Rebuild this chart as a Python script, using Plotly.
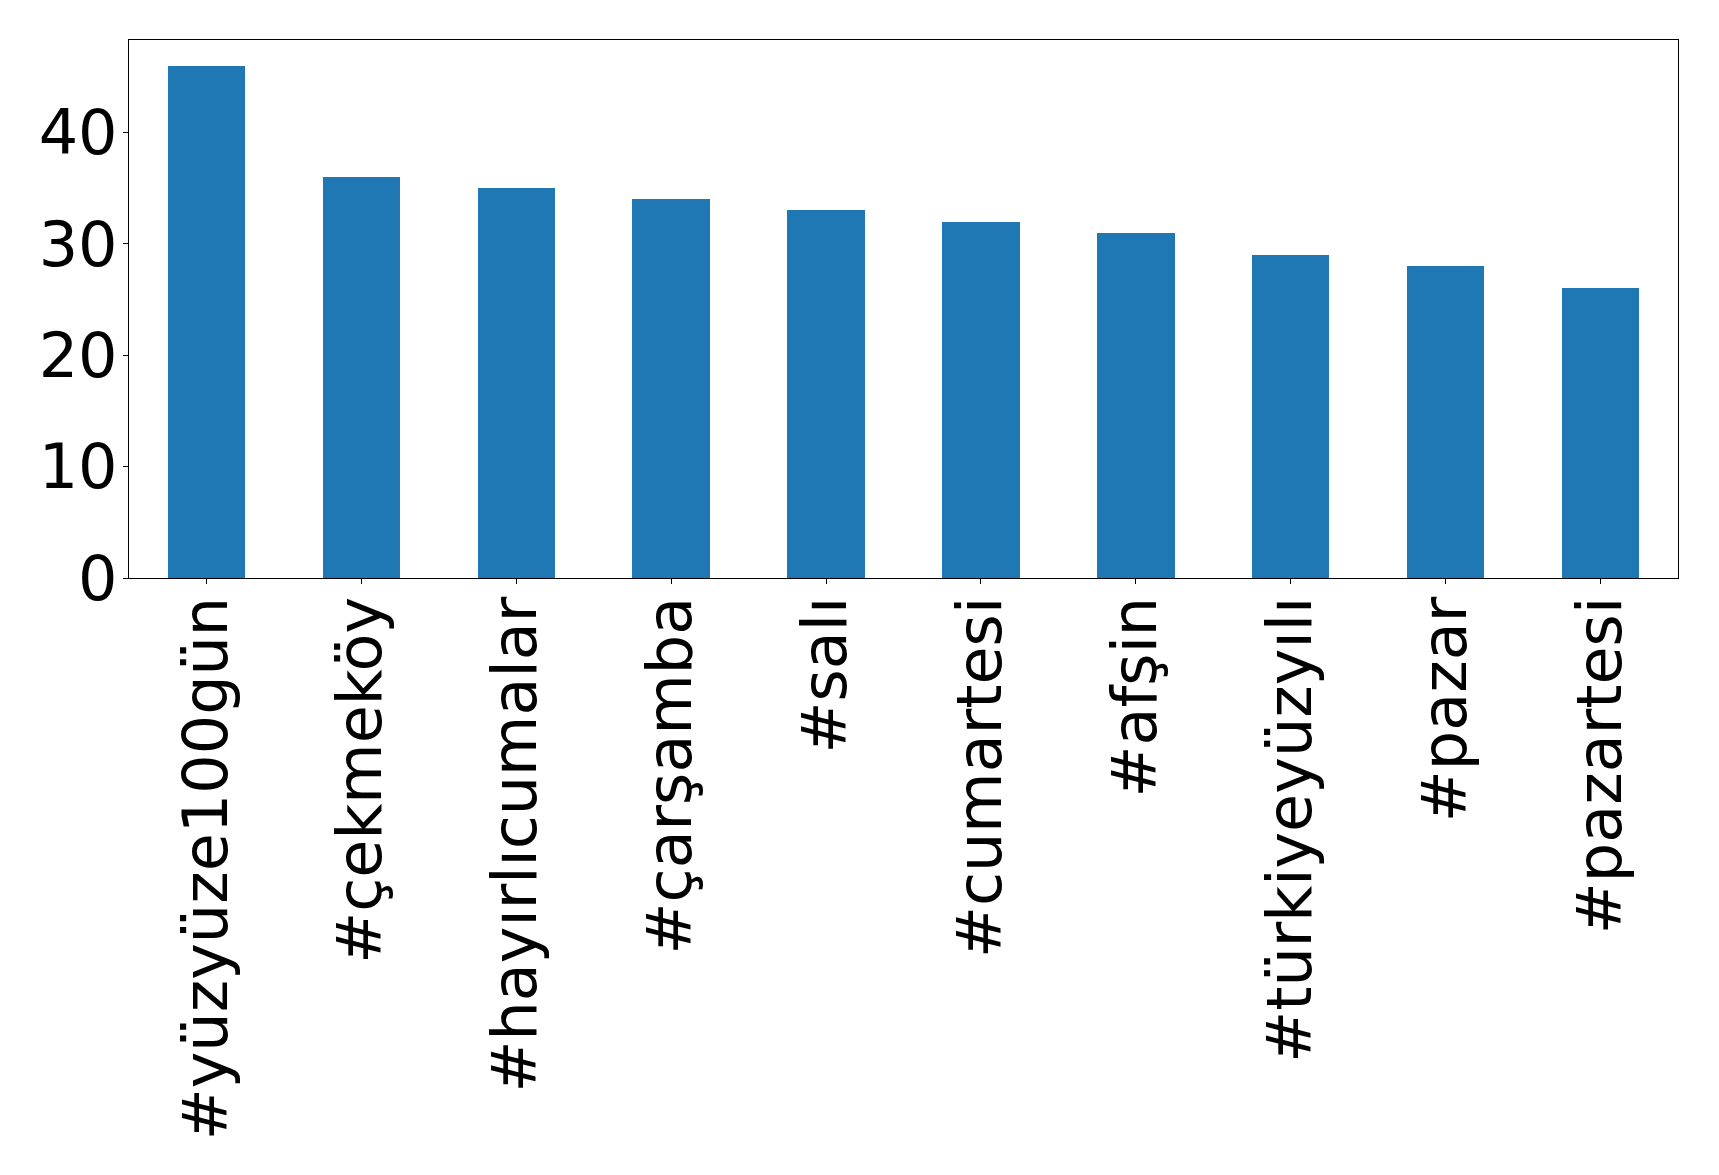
import plotly.graph_objects as go

categories = ["#yüzyüze100gün", "#çekmeköy", "#hayırlıcumalar", "#çarşamba", "#salı",
              "#cumartesi", "#afşin", "#türkiyeyüzyılı", "#pazar", "#pazartesi"]
counts = [46, 36, 35, 34, 33, 32, 31, 29, 28, 26]
y_ticks = [0, 10, 20, 30, 40]

W, H = 1719, 1175
off = 8  # page body margin
left, right, top, bottom = 129.4 - off, 1678.5 - off, 39.5 - off, 577.7 - off

fig = go.Figure(go.Bar(
    x=list(range(len(categories))), y=counts, width=0.5,
    marker=dict(color="#1f77b4", line=dict(width=0)),
))

font = dict(family="DejaVu Sans", size=62, color="black")
fig.update_layout(
    width=W, height=H,
    margin=dict(l=left, r=W - right, t=top, b=H - bottom, pad=0),
    paper_bgcolor="white", plot_bgcolor="white",
    showlegend=False, bargap=0,
    font=font,
)
fig.update_xaxes(
    range=[-0.5, len(categories) - 0.5],
    tickmode="array", tickvals=list(range(len(categories))), ticktext=categories,
    tickangle=-90, ticks="outside", ticklen=5, tickwidth=1.1, tickcolor="black",
    showline=True, linecolor="black", linewidth=1.1, mirror=True,
    showgrid=False, zeroline=False, tickfont=font, ticklabelstandoff=-12,
)
fig.update_yaxes(
    range=[0, 48.3],
    tickmode="array", tickvals=y_ticks, ticktext=[str(v) for v in y_ticks],
    ticks="outside", ticklen=5, tickwidth=1.1, tickcolor="black",
    showline=True, linecolor="black", linewidth=1.1, mirror=True,
    showgrid=False, zeroline=False, tickfont=font, ticklabelstandoff=-7,
)
fig.write_html("out.html")
